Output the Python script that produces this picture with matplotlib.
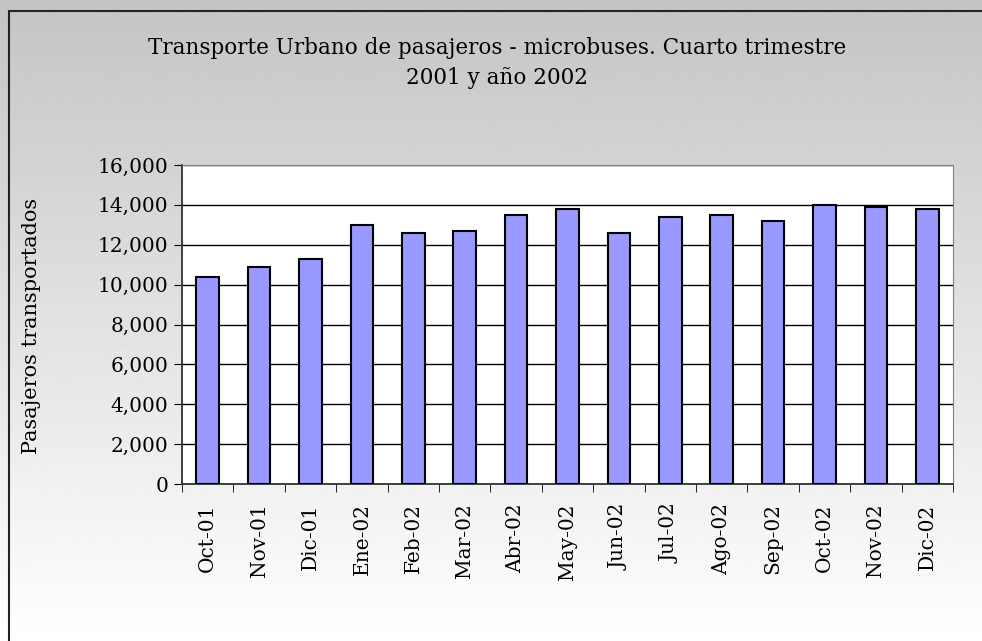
import numpy as np
import matplotlib.pyplot as plt
from matplotlib.ticker import FuncFormatter

# datos
meses = ["Oct-01", "Nov-01", "Dic-01", "Ene-02", "Feb-02", "Mar-02", "Abr-02",
         "May-02", "Jun-02", "Jul-02", "Ago-02", "Sep-02", "Oct-02", "Nov-02", "Dic-02"]
pasajeros = [10400, 10900, 11300, 13000, 12600, 12700, 13500,
             13800, 12600, 13400, 13500, 13200, 14000, 13900, 13800]

plt.rcParams['font.family'] = ['DejaVu Serif']

fig = plt.figure(figsize=(9.82, 6.41), dpi=100)
W, H = 982, 641

# fondo degradado gris -> blanco
bg = fig.add_axes([0, 0, 1, 1], zorder=0)
grad = np.linspace(0.77, 1.0, 256).reshape(-1, 1)
bg.imshow(grad, cmap="gray", vmin=0, vmax=1, aspect="auto", extent=[0, 1, 0, 1])
bg.set_xlim(0, W)
bg.set_ylim(H, 0)
bg.imshow(grad, cmap="gray", vmin=0, vmax=1, aspect="auto", extent=[0, W, H, 0])
# marco exterior (solo borde superior e izquierdo visibles)
bg.plot([9, 9, W], [H, 11, 11], color="#222222", lw=1.5)
bg.axis("off")

ax = fig.add_axes([182 / W, 1 - 484 / H, (953 - 182) / W, (484 - 165) / H], zorder=1)
ax.set_facecolor("white")
x = np.arange(len(meses))
ax.bar(x, pasajeros, width=0.44, color="#9999FF", edgecolor="black", linewidth=1.5, zorder=3)

ax.set_xlim(-0.5, len(meses) - 0.5)
ax.set_ylim(0, 16000)
ax.set_yticks(np.arange(0, 16001, 2000))
ax.yaxis.set_major_formatter(FuncFormatter(lambda v, p: f"{int(v):,}"))
ax.grid(axis="y", color="black", lw=1, zorder=1)
ax.set_xticks(x)
ax.set_xticklabels(meses, rotation=90, fontsize=14.5)
ax.set_xticks(np.arange(-0.5, len(meses)), minor=True)
ax.tick_params(axis="x", which="major", length=0, pad=14)
ax.tick_params(axis="x", which="minor", length=6, direction="out", color="black")
ax.tick_params(axis="y", length=6, labelsize=14.5, pad=4)
for s in ["top", "right"]:
    ax.spines[s].set_color("#808080")
for s in ["left", "bottom"]:
    ax.spines[s].set_color("#333333")
    ax.spines[s].set_linewidth(1.3)

fig.text(497 / W, 1 - 63 / H, "Transporte Urbano de pasajeros - microbuses. Cuarto trimestre\n2001 y año 2002",
         ha="center", va="center", fontsize=15.5, linespacing=1.5)
fig.text(32 / W, 1 - 326 / H, "Pasajeros transportados", rotation=90, ha="center", va="center",
         fontsize=15)

fig.savefig("out.png", dpi=100)
